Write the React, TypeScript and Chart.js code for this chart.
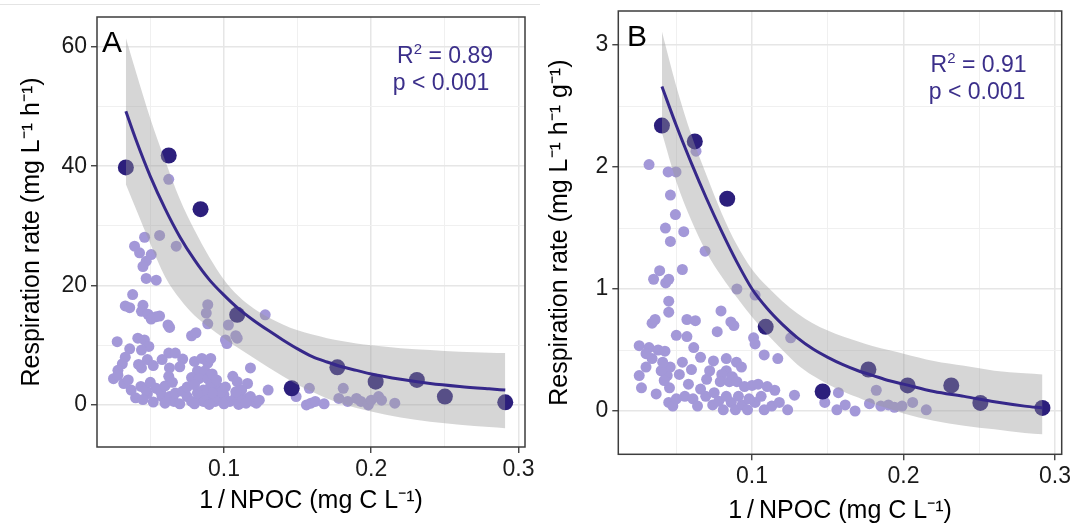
import React, { useEffect, useRef } from 'react';
import { Chart, registerables } from 'chart.js';
Chart.register(...registerables);

type P = [number, number];

// ---------- tick definitions ----------
const xTicks = [0.05, 0.1, 0.15, 0.2, 0.25, 0.3];
const xLabelVals = [0.1, 0.2, 0.3];
const yTicksA = [0, 10, 20, 30, 40, 50, 60];
const yLabelValsA = [0, 20, 40, 60];
const yTicksB = [0, 0.5, 1, 1.5, 2, 2.5, 3];
const yLabelValsB = [0, 1, 2, 3];

// ---------- panel A data ----------
const lightA: P[] = [
  [0.0625, 37.8], [0.0461, 28.1], [0.0393, 26.6], [0.0427, 25.5], [0.0506, 25.2], [0.0472, 24.1],
  [0.045, 23.2], [0.0472, 21.2], [0.054, 20.9], [0.0563, 28.4], [0.0676, 26.6],
  [0.038, 18.5], [0.033, 16.6], [0.036, 16.3], [0.045, 16.7], [0.044, 15.7], [0.0484, 15.2],
  [0.054, 14.8], [0.0506, 14.4], [0.0563, 14.9], [0.062, 13.4], [0.0631, 13.0], [0.089, 16.8],
  [0.088, 15.4], [0.089, 13.6], [0.103, 13.4], [0.109, 11.2], [0.128, 15.1], [0.078, 11.6],
  [0.081, 12.1], [0.101, 10.9], [0.102, 10.3], [0.108, 11.6],
  [0.0275, 10.6], [0.036, 9.4], [0.033, 8.0], [0.031, 6.9], [0.028, 5.8], [0.025, 4.4], [0.028, 5.0],
  [0.0415, 11.2], [0.046, 10.9], [0.049, 9.8], [0.044, 9.2], [0.048, 7.6], [0.044, 6.2], [0.042, 6.8],
  [0.052, 6.6], [0.058, 7.6], [0.0625, 8.7], [0.067, 8.7], [0.072, 7.7], [0.063, 6.2], [0.0625, 4.8],
  [0.070, 6.4], [0.080, 7.3], [0.085, 7.8], [0.089, 7.0], [0.091, 7.8], [0.082, 5.7], [0.087, 5.7],
  [0.078, 4.6], [0.083, 4.4], [0.089, 4.4], [0.092, 5.2], [0.096, 3.0], [0.091, 3.3], [0.106, 4.8],
  [0.109, 3.9], [0.118, 6.2], [0.116, 3.6], [0.112, 2.5], [0.130, 2.5],
  [0.037, 2.5], [0.0436, 3.1], [0.048, 1.9], [0.047, 2.5], [0.054, 2.8], [0.057, 2.2], [0.058, 1.4],
  [0.063, 1.4], [0.066, 0.6], [0.067, 2.0], [0.072, 2.3], [0.075, 1.4], [0.078, 0.6], [0.083, 1.1],
  [0.086, 0.6], [0.089, 1.4], [0.094, 0.6], [0.096, 1.1], [0.100, 1.7], [0.104, 0.6], [0.108, 1.4],
  [0.112, 0.8], [0.116, 1.1], [0.120, 0.6], [0.122, 0.3], [0.118, 1.4], [0.108, 2.2], [0.098, 2.2],
  [0.092, 2.0], [0.086, 2.5], [0.082, 2.0], [0.040, 1.2], [0.045, 0.9], [0.052, 0.5], [0.060, 0.3],
  [0.070, 0.2], [0.080, 0.2], [0.090, 0.1], [0.100, 0.2], [0.110, 0.1], [0.115, 0.3], [0.124, 0.8],
  [0.032, 3.6], [0.035, 4.2], [0.050, 3.8], [0.060, 3.2], [0.065, 3.8], [0.075, 3.0], [0.080, 3.4],
  [0.095, 4.2], [0.101, 3.0],
  [0.149, 1.4], [0.158, 2.8], [0.156, 0.0], [0.159, 0.3], [0.162, 0.6], [0.168, 0.2], [0.178, 1.1],
  [0.181, 2.8], [0.184, 0.6], [0.190, 1.1], [0.193, 0.6], [0.198, 0.0], [0.200, 0.8], [0.205, 1.4],
  [0.207, 0.8], [0.216, 0.3],
];
const darkA: P[] = [
  [0.0334, 39.8], [0.0625, 41.8], [0.0841, 32.8], [0.109, 15.1], [0.146, 2.8],
  [0.177, 6.3], [0.203, 3.9], [0.231, 4.2], [0.250, 1.4], [0.291, 0.45],
];
const fitXA = [0.0334, 0.04, 0.05, 0.06, 0.07, 0.08, 0.09, 0.10, 0.11, 0.12, 0.13, 0.14, 0.15, 0.16, 0.17, 0.18, 0.19, 0.20, 0.22, 0.24, 0.26, 0.28, 0.291];
const fitYA = [49.2, 44.6, 38.3, 32.9, 28.2, 24.3, 21.0, 18.4, 16.1, 14.2, 12.5, 10.9, 9.4, 8.1, 7.2, 6.4, 5.8, 5.2, 4.3, 3.6, 3.1, 2.7, 2.5];
const upperA = [61.5, 56, 48, 41, 34.5, 29.3, 24.8, 21, 18.2, 16.2, 14.7, 13.5, 12.5, 11.8, 11.2, 10.7, 10.3, 10.0, 9.5, 9.2, 8.9, 8.75, 8.7];
const lowerA = [37, 33, 27, 21.5, 17.8, 15.0, 13.0, 11.2, 9.5, 7.9, 6.3, 4.8, 3.4, 2.2, 1.1, 0.2, -0.5, -1.1, -2.1, -2.8, -3.3, -3.7, -3.9];

// ---------- panel B data ----------
const lightB: P[] = [
  [0.032, 2.02], [0.0446, 1.96], [0.0498, 1.96], [0.063, 2.13], [0.0461, 1.77], [0.0494, 1.61],
  [0.0428, 1.50], [0.0549, 1.47], [0.0461, 1.39], [0.069, 1.31],
  [0.035, 1.08], [0.039, 1.15], [0.043, 1.05], [0.045, 1.08], [0.054, 1.16], [0.045, 0.90], [0.045, 0.81],
  [0.034, 0.72], [0.036, 0.75], [0.057, 0.75], [0.0626, 0.74], [0.0795, 0.82], [0.077, 0.65], [0.086, 0.73],
  [0.088, 0.70], [0.090, 1.0], [0.102, 0.95], [0.050, 0.62], [0.057, 0.61], [0.0255, 0.535], [0.032, 0.52],
  [0.038, 0.50], [0.0425, 0.49], [0.034, 0.43], [0.030, 0.36], [0.0255, 0.29], [0.027, 0.19], [0.0615, 0.52],
  [0.066, 0.44], [0.0745, 0.41], [0.101, 0.60], [0.102, 0.55], [0.108, 0.46], [0.117, 0.43], [0.1255, 0.60],
  [0.0897, 0.40], [0.093, 0.36], [0.083, 0.33], [0.080, 0.30], [0.079, 0.24], [0.085, 0.24], [0.087, 0.28],
  [0.090, 0.24], [0.095, 0.20], [0.100, 0.21], [0.104, 0.22], [0.115, 0.17], [0.128, 0.13], [0.0367, 0.14],
  [0.0455, 0.19], [0.044, 0.29], [0.046, 0.36], [0.045, 0.07], [0.0477, 0.04], [0.0556, 0.12], [0.061, 0.10],
  [0.064, 0.04], [0.0694, 0.12], [0.074, 0.05], [0.081, 0.01], [0.0863, 0.07], [0.089, 0.01], [0.0935, 0.05],
  [0.097, 0.01], [0.102, 0.07], [0.108, 0.01], [0.113, 0.04], [0.118, 0.07], [0.1235, 0.01], [0.040, 0.33],
  [0.042, 0.25], [0.050, 0.10], [0.052, 0.30], [0.058, 0.22], [0.066, 0.18], [0.070, 0.26], [0.075, 0.15],
  [0.078, 0.08], [0.083, 0.12], [0.091, 0.12], [0.098, 0.10], [0.106, 0.12], [0.110, 0.20], [0.030, 0.47],
  [0.041, 0.40], [0.054, 0.40], [0.060, 0.34], [0.083, 0.43], [0.072, 0.33],
  [0.148, 0.07], [0.157, 0.15], [0.156, 0.01], [0.1615, 0.05], [0.168, 0.0], [0.1775, 0.06], [0.182, 0.17],
  [0.185, 0.04], [0.190, 0.05], [0.194, 0.03], [0.199, 0.04], [0.206, 0.07], [0.215, 0.01],
];
const darkB: P[] = [
  [0.0405, 2.34], [0.0622, 2.21], [0.0836, 1.74], [0.109, 0.69], [0.1466, 0.16],
  [0.1768, 0.34], [0.2027, 0.21], [0.2315, 0.21], [0.2507, 0.066], [0.2917, 0.025],
];
const fitXB = [0.0405, 0.05, 0.06, 0.07, 0.08, 0.09, 0.10, 0.11, 0.12, 0.13, 0.14, 0.15, 0.16, 0.17, 0.18, 0.19, 0.20, 0.22, 0.24, 0.26, 0.28, 0.2917];
const fitYB = [2.66, 2.34, 2.03, 1.74, 1.47, 1.22, 1.0, 0.84, 0.71, 0.60, 0.51, 0.44, 0.38, 0.33, 0.29, 0.25, 0.22, 0.16, 0.12, 0.075, 0.04, 0.025];
const upperB = [3.11, 2.66, 2.26, 1.93, 1.62, 1.36, 1.16, 1.02, 0.90, 0.80, 0.72, 0.66, 0.61, 0.57, 0.53, 0.50, 0.47, 0.41, 0.37, 0.33, 0.31, 0.30];
const lowerB = [2.28, 1.88, 1.56, 1.30, 1.10, 0.93, 0.77, 0.63, 0.50, 0.38, 0.29, 0.22, 0.16, 0.11, 0.06, 0.02, -0.02, -0.08, -0.12, -0.15, -0.18, -0.19];

// ---------- styles ----------
const FONT = '"Liberation Sans", Arial, Helvetica, sans-serif';
const LIGHT = '#a398d8';
const DARK = '#2c1f7c';
const LINE = '#36288a';
const RIBBON = 'rgba(153,153,153,0.4)';
const TXT = '#3b2f8a';

const near = (a: number, list: number[]) => list.some((v) => Math.abs(v - a) < 1e-9);
const toPts = (xs: number[], ys: number[]) => xs.map((x, i) => ({ x, y: ys[i] }));
const toObj = (ps: P[]) => ps.map(([x, y]) => ({ x, y }));

interface Panel {
  width: number;
  light: P[]; dark: P[];
  fitX: number[]; fitY: number[]; upper: number[]; lower: number[];
  yTicks: number[]; yLabels: number[];
  xMin: number; xMax: number; yMin: number; yMax: number;
  yW: number; xH: number; padTop: number; padRight: number;
  yTitle: string; yTitlePad: number; xTitlePad: number;
  letter: string; letterX: number; letterY: number;
  r2: string; r2X: number; r2Y: number; pX: number; pY: number;
  topLine?: boolean;
}

const panels: Panel[] = [
  {
    width: 540, light: lightA, dark: darkA, fitX: fitXA, fitY: fitYA, upper: upperA, lower: lowerA,
    yTicks: yTicksA, yLabels: yLabelValsA, xMin: 0.0138, xMax: 0.3044, yMin: -7.04, yMax: 65.0,
    yW: 97, xH: 80, padTop: 17, padRight: 15,
    yTitle: 'Respiration rate (mg L\u207B\u00B9 h\u207B\u00B9)', yTitlePad: 17, xTitlePad: 11,
    letter: 'A', letterX: 102, letterY: 51.5,
    r2: '0.89', r2X: 445, r2Y: 63, pX: 441, pY: 90, topLine: true,
  },
  {
    width: 535, light: lightB, dark: darkB, fitX: fitXB, fitY: fitYB, upper: upperB, lower: lowerB,
    yTicks: yTicksB, yLabels: yLabelValsB, xMin: 0.0117, xMax: 0.3044, yMin: -0.355, yMax: 3.279,
    yW: 78.3, xH: 72.7, padTop: 11, padRight: 13.3,
    yTitle: 'Respiration rate (mg L\u207B\u00B9 h\u207B\u00B9 g\u207B\u00B9)', yTitlePad: 5.5, xTitlePad: 1,
    letter: 'B', letterX: 87, letterY: 46,
    r2: '0.91', r2X: 438.5, r2Y: 71.5, pX: 437, pY: 99,
  },
];

function makeChart(canvas: HTMLCanvasElement, p: Panel) {
  const decor = {
    id: 'decor' + p.letter,
    afterDatasetsDraw(chart: any) {
      const { ctx, chartArea: a } = chart;
      ctx.save();
      ctx.strokeStyle = '#3d3d3d';
      ctx.lineWidth = 1.5;
      ctx.strokeRect(a.left, a.top, a.right - a.left, a.bottom - a.top);
      ctx.textBaseline = 'alphabetic';
      ctx.fillStyle = '#000';
      ctx.textAlign = 'left';
      ctx.font = `30px ${FONT}`;
      ctx.fillText(p.letter, p.letterX, p.letterY);
      // R^2 line
      ctx.fillStyle = TXT;
      const big = `23px ${FONT}`;
      const small = `15px ${FONT}`;
      ctx.font = big;
      const wR = ctx.measureText('R').width;
      const wEq = ctx.measureText(' = ').width;
      const wV = ctx.measureText(p.r2).width;
      ctx.font = small;
      const w2 = ctx.measureText('2').width;
      const total = wR + w2 + wEq + wV;
      let x = p.r2X - total / 2;
      ctx.font = big;
      ctx.fillText('R', x, p.r2Y);
      x += wR;
      ctx.font = small;
      ctx.fillText('2', x, p.r2Y - 9);
      x += w2;
      ctx.font = big;
      ctx.fillText(' = ', x, p.r2Y);
      x += wEq;
      ctx.fillText(p.r2, x, p.r2Y);
      ctx.textAlign = 'center';
      ctx.fillText('p < 0.001', p.pX, p.pY);
      if (p.topLine) {
        ctx.strokeStyle = '#e4e4e4';
        ctx.lineWidth = 1;
        ctx.beginPath();
        ctx.moveTo(0, 4.5);
        ctx.lineTo(p.width, 4.5);
        ctx.stroke();
      }
      ctx.restore();
    },
  };

  const gridColor = (labels: number[]) => (c: any) => (c.tick && near(c.tick.value, labels) ? '#e6e6e6' : '#f0f0f0');
  const gridWidth = (labels: number[]) => (c: any) => (c.tick && near(c.tick.value, labels) ? 1.5 : 1);
  const tickColor = (labels: number[]) => (c: any) => (c.tick && near(c.tick.value, labels) ? '#333' : 'rgba(0,0,0,0)');

  return new Chart(canvas, {
    type: 'scatter',
    data: {
      datasets: [
        {
          type: 'line', data: toPts(p.fitX, p.fitY), borderColor: LINE, borderWidth: 3, pointRadius: 0,
          fill: false, cubicInterpolationMode: 'monotone', order: 0,
        } as any,
        {
          type: 'line', data: toPts(p.fitX, p.upper), borderColor: 'rgba(0,0,0,0)', borderWidth: 0, pointRadius: 0,
          fill: '+1', backgroundColor: RIBBON, cubicInterpolationMode: 'monotone', order: 1,
        } as any,
        {
          type: 'line', data: toPts(p.fitX, p.lower), borderColor: 'rgba(0,0,0,0)', borderWidth: 0, pointRadius: 0,
          fill: false, cubicInterpolationMode: 'monotone', order: 1,
        } as any,
        { data: toObj(p.dark), pointRadius: 8, backgroundColor: DARK, borderWidth: 0, order: 2 } as any,
        { data: toObj(p.light), pointRadius: 5.5, backgroundColor: LIGHT, borderWidth: 0, order: 3 } as any,
      ],
    },
    options: {
      animation: false,
      responsive: false,
      events: [],
      layout: { padding: { left: 0, right: p.padRight, top: p.padTop, bottom: 0 } },
      plugins: { legend: { display: false }, tooltip: { enabled: false } },
      scales: {
        x: {
          type: 'linear', position: 'bottom', min: p.xMin, max: p.xMax,
          afterBuildTicks: (s: any) => { s.ticks = xTicks.map((v) => ({ value: v })); },
          afterFit: (s: any) => { s.height = p.xH; s.paddingLeft = 0; s.paddingRight = 0; },
          ticks: {
            autoSkip: false, maxRotation: 0, padding: 3, color: '#1a1a1a',
            font: { family: FONT, size: 23 },
            callback: (v: any) => (near(Number(v), xLabelVals) ? String(Number(v)) : ''),
          },
          grid: { color: gridColor(xLabelVals), lineWidth: gridWidth(xLabelVals), tickLength: 6, tickColor: tickColor(xLabelVals), tickWidth: 1.3 },
          border: { display: false },
          title: {
            display: true, text: '1\u2009/\u2009NPOC (mg C L\u207B\u00B9)', color: '#000',
            font: { family: FONT, size: 25 }, padding: { top: 0, bottom: p.xTitlePad },
          },
        },
        y: {
          type: 'linear', position: 'left', min: p.yMin, max: p.yMax,
          afterBuildTicks: (s: any) => { s.ticks = p.yTicks.map((v) => ({ value: v })); },
          afterFit: (s: any) => { s.width = p.yW; s.paddingTop = 0; s.paddingBottom = 0; },
          ticks: {
            autoSkip: false, padding: 4, color: '#1a1a1a',
            font: { family: FONT, size: 23 },
            callback: (v: any) => (near(Number(v), p.yLabels) ? String(Number(v)) : ''),
          },
          grid: { color: gridColor(p.yLabels), lineWidth: gridWidth(p.yLabels), tickLength: 6, tickColor: tickColor(p.yLabels), tickWidth: 1.3 },
          border: { display: false },
          title: {
            display: true, text: p.yTitle, color: '#000',
            font: { family: FONT, size: 25 }, padding: { top: p.yTitlePad, bottom: 0 },
          },
        },
      },
    },
    plugins: [decor],
  } as any);
}

function PanelChart({ p, left }: { p: Panel; left: number }) {
  const ref = useRef<HTMLCanvasElement | null>(null);
  useEffect(() => {
    if (!ref.current) return;
    const chart = makeChart(ref.current, p);
    return () => chart.destroy();
  }, [p]);
  return (
    <canvas
      ref={ref}
      width={p.width}
      height={527}
      style={{ position: 'absolute', left, top: 0, width: p.width, height: 527 }}
    />
  );
}

export default function App() {
  return (
    <div style={{ position: 'fixed', left: 0, top: 0, width: 1075, height: 527, background: '#fff', overflow: 'hidden' }}>
      <PanelChart p={panels[0]} left={0} />
      <PanelChart p={panels[1]} left={540} />
    </div>
  );
}
